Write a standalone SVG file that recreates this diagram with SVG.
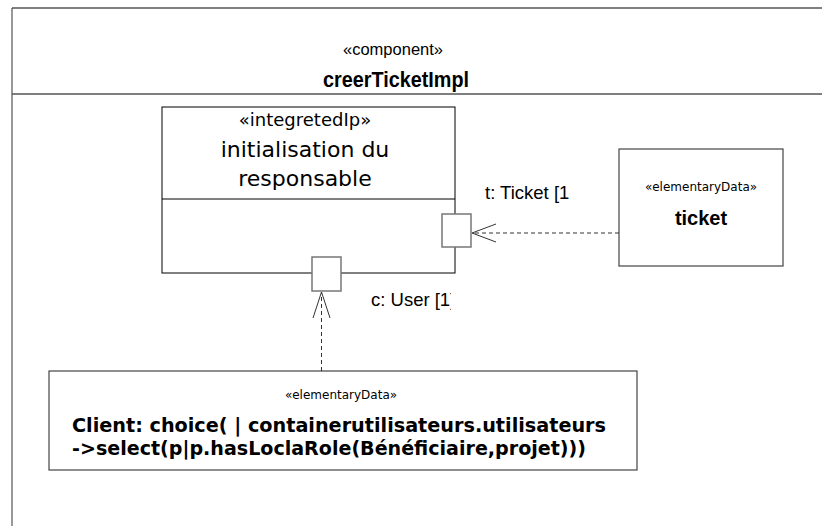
<svg xmlns="http://www.w3.org/2000/svg" width="822" height="526" viewBox="0 0 822 526">
<style>
.box{fill:#fff;stroke:#000;stroke-width:1}
.gbox{fill:#fff;stroke:#444;stroke-width:1.2}
.port{fill:#fff;stroke:#777;stroke-width:1.5}
.dash{fill:none;stroke:#333;stroke-width:1;stroke-dasharray:4,3}
.head{fill:none;stroke:#333;stroke-width:1}
.dv{font-family:"DejaVu Sans",sans-serif;fill:#000}
.lib{font-family:"Liberation Sans",Arial,sans-serif;fill:#000}
</style>
<defs>
<clipPath id="clipU"><rect x="360" y="280" width="91" height="40"/></clipPath>
</defs>
<rect width="822" height="526" fill="#fff"/>
<g id="frame">
<line x1="12" y1="8" x2="822" y2="8" stroke="#555" stroke-width="1.5"/>
<line x1="12" y1="8" x2="12" y2="526" stroke="#333" stroke-width="1"/>
<line x1="12" y1="94" x2="822" y2="94" stroke="#555" stroke-width="1.5"/>
<text class="lib" x="393" y="55" font-size="17" text-anchor="middle" textLength="100" lengthAdjust="spacingAndGlyphs">«component»</text>
<text class="lib" x="396" y="87" font-size="22" font-weight="bold" text-anchor="middle" textLength="146" lengthAdjust="spacingAndGlyphs">creerTicketImpl</text>
</g>
<g id="init">
<rect class="box" x="162" y="107" width="293" height="166"/>
<line x1="162" y1="199" x2="455" y2="199" stroke="#000"/>
<text class="dv" x="305" y="126" font-size="18" text-anchor="middle">«integretedIp»</text>
<text class="dv" x="305" y="157" font-size="22" text-anchor="middle">initialisation du</text>
<text class="dv" x="305" y="186" font-size="22" text-anchor="middle">responsable</text>
</g>
<g id="portT">
<rect class="port" x="442" y="214" width="29" height="33"/>
<text class="lib" x="485" y="199" font-size="18.5">t: Ticket [1</text>
</g>
<g id="portC">
<rect class="port" x="312" y="257" width="29" height="34"/>
<text class="lib" x="371" y="306" font-size="18.5" clip-path="url(#clipU)">c: User [1]</text>
</g>
<g id="ticket">
<rect class="gbox" x="619" y="149" width="164" height="117"/>
<text class="dv" x="701" y="191" font-size="12" text-anchor="middle">«elementaryData»</text>
<text class="lib" x="701" y="225" font-size="20" font-weight="bold" text-anchor="middle">ticket</text>
</g>
<g id="client">
<rect class="gbox" x="49" y="371" width="588" height="99"/>
<text class="dv" x="341" y="399" font-size="12" text-anchor="middle">«elementaryData»</text>
<text class="dv" x="72" y="432" font-size="19.5" font-weight="bold" textLength="534" lengthAdjust="spacingAndGlyphs">Client: choice( | containerutilisateurs.utilisateurs</text>
<text class="dv" x="72" y="455" font-size="19.5" font-weight="bold" textLength="514" lengthAdjust="spacingAndGlyphs">-&gt;select(p|p.hasLoclaRole(Bénéficiaire,projet)))</text>
</g>
<g id="connectors">
<line class="dash" x1="619" y1="233" x2="472" y2="233"/>
<polyline class="head" points="496,224 472,233 496,242"/>
<line class="dash" x1="321.5" y1="371" x2="321.5" y2="292"/>
<polyline class="head" points="313,318 321.5,292 330,318"/>
</g>
</svg>
